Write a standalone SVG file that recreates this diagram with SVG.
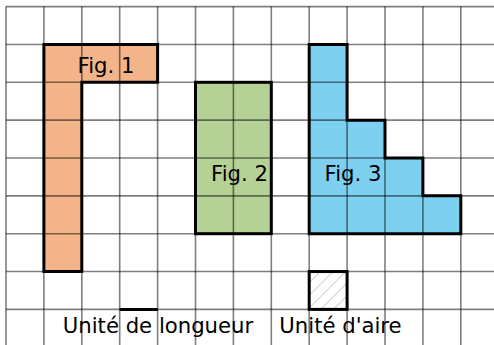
<svg xmlns="http://www.w3.org/2000/svg" width="494" height="345" viewBox="0 0 494 345">
<style>
.grid{stroke:#000;stroke-opacity:0.5;stroke-width:1.6;fill:none}
.outline{stroke:#000;stroke-width:3;fill:none;stroke-linejoin:miter}
.lbl{font-family:"DejaVu Sans",sans-serif;font-size:21.2px;fill:#000;text-anchor:middle}
</style>
<defs>
<pattern id="hatch" patternUnits="userSpaceOnUse" width="9" height="9" patternTransform="rotate(-45)">
<line x1="0" y1="4.5" x2="9" y2="4.5" stroke="#c4c4c4" stroke-width="0.8"/>
</pattern>
</defs>
<rect x="0" y="0" width="494" height="345" fill="#fff"/>
<g id="fills">
<path d="M43.9,44.45 H157.6 V82.3 H81.8 V271.55 H43.9 Z" fill="#f4b48a"/>
<rect x="195.5" y="82.3" width="75.8" height="151.4" fill="#b5d196"/>
<path d="M309.2,44.45 H347.1 V120.15 H385 V158 H422.9 V195.85 H460.8 V233.7 H309.2 Z" fill="#7dd0ef"/>
<rect x="309.2" y="271.55" width="37.9" height="37.85" fill="url(#hatch)"/>
</g>
<g id="grid" class="grid">
<path d="M6,6.6 V345 M43.9,6.6 V345 M81.8,6.6 V345 M119.7,6.6 V345 M157.6,6.6 V345 M195.5,6.6 V345 M233.4,6.6 V345 M271.3,6.6 V345 M309.2,6.6 V345 M347.1,6.6 V345 M385,6.6 V345 M422.9,6.6 V345 M460.8,6.6 V345"/>
<path d="M6,6.6 H494 M6,44.45 H494 M6,82.3 H494 M6,120.15 H494 M6,158 H494 M6,195.85 H494 M6,233.7 H494 M6,271.55 H494 M6,309.4 H494"/>
</g>
<g id="fig1">
<path class="outline" d="M43.9,44.45 H157.6 V82.3 H81.8 V271.55 H43.9 Z"/>
<text class="lbl" x="106" y="72.5">Fig. 1</text>
</g>
<g id="fig2">
<rect class="outline" x="195.5" y="82.3" width="75.8" height="151.4"/>
<text class="lbl" x="239.5" y="180.5">Fig. 2</text>
</g>
<g id="fig3">
<path class="outline" d="M309.2,44.45 H347.1 V120.15 H385 V158 H422.9 V195.85 H460.8 V233.7 H309.2 Z"/>
<text class="lbl" x="353" y="180.5">Fig. 3</text>
</g>
<g id="unit-length">
<line x1="119.7" y1="309.4" x2="157.6" y2="309.4" stroke="#000" stroke-width="3"/>
<text class="lbl" x="158" y="333">Unité de longueur</text>
</g>
<g id="unit-area">
<rect class="outline" x="309.2" y="271.55" width="37.9" height="37.85"/>
<text class="lbl" x="340.5" y="333">Unité d'aire</text>
</g>
<g id="connectors"/>
</svg>
